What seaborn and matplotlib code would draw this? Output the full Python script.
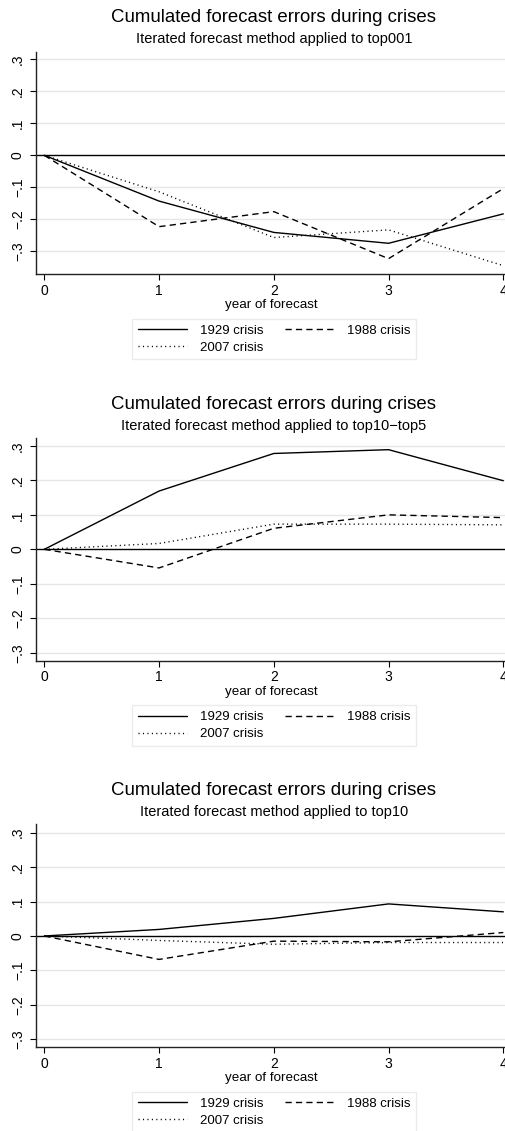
import matplotlib
matplotlib.use("Agg")
import matplotlib.pyplot as plt
import seaborn as sns
import pandas as pd

sns.set_style("ticks")
plt.rcParams["font.family"] = ["Liberation Sans", "DejaVu Sans"]
plt.rcParams["axes.unicode_minus"] = True
for key in ["text.color", "axes.labelcolor", "xtick.color", "ytick.color", "axes.edgecolor"]:
    plt.rcParams[key] = "black"

years = [0, 1, 2, 3, 4]
crises = ["1929 crisis", "1988 crisis", "2007 crisis"]
yticks = [-0.3, -0.2, -0.1, 0.0, 0.1, 0.2, 0.3]
ytick_labels = ["\u2212.3", "\u2212.2", "\u2212.1", "0", ".1", ".2", ".3"]

# cumulated forecast errors, one list per crisis for each series
top001_1929 = [0.0, -0.143, -0.241, -0.275, -0.183]
top001_1988 = [0.0, -0.223, -0.176, -0.323, -0.104]
top001_2007 = [0.0, -0.114, -0.257, -0.233, -0.345]

top10_top5_1929 = [0.0, 0.169, 0.278, 0.289, 0.199]
top10_top5_1988 = [0.0, -0.054, 0.061, 0.100, 0.092]
top10_top5_2007 = [0.0, 0.017, 0.073, 0.073, 0.071]

top10_1929 = [0.0, 0.019, 0.051, 0.093, 0.070]
top10_1988 = [0.0, -0.068, -0.015, -0.017, 0.010]
top10_2007 = [0.0, -0.013, -0.024, -0.019, -0.019]

panels = [
    ("top001", [top001_1929, top001_1988, top001_2007], (-0.371, 0.324), 51.7, 274.0),
    ("top10\u2212top5", [top10_top5_1929, top10_top5_1988, top10_top5_2007], (-0.323, 0.322), 438.3, 660.7),
    ("top10", [top10_1929, top10_1988, top10_2007], (-0.323, 0.324), 824.3, 1047.3),
]

styles = {
    "1929 crisis": "-",
    "1988 crisis": (0, (4.5, 3.0)),
    "2007 crisis": (0, (0.8, 2.4)),
}

W, H = 506, 1131
fig = plt.figure(figsize=(W / 100, H / 100), dpi=100)

x_left, x_right = 36.0, 506.0
x0_px, x4_px = 44.3, 503.3
px_per_year = (x4_px - x0_px) / 4
xlim = (-(x0_px - x_left) / px_per_year, 4 + (x_right - x4_px) / px_per_year)

for name, series, ylim, top_px, bot_px in panels:
    ax = fig.add_axes([x_left / W, 1 - bot_px / H, (x_right - x_left) / W, (bot_px - top_px) / H])
    df = pd.DataFrame({
        "year": years * 3,
        "error": sum(series, []),
        "crisis": [c for c in crises for _ in years],
    })
    ax.axhline(0, color="black", lw=1.0, zorder=1)
    for t in yticks:
        if t != 0:
            ax.axhline(t, color="#e6e6e6", lw=1.0, zorder=0)
    for c in crises:
        sns.lineplot(data=df[df["crisis"] == c], x="year", y="error", ax=ax,
                     color="black", linestyle=styles[c], lw=1.0, label=c,
                     legend=False, zorder=3)
    ax.set_xlim(*xlim)
    ax.set_ylim(*ylim)
    ax.set_xticks(years)
    ax.set_xticklabels([str(y) for y in years], fontsize=10)
    ax.set_yticks(yticks)
    ax.set_yticklabels(ytick_labels, fontsize=10, rotation=90, va="center")
    ax.tick_params(axis="both", direction="out", length=4, width=0.8, color="black", pad=3)
    ax.tick_params(axis="y", pad=4)
    ax.set_xlabel("year of forecast", fontsize=9.6, labelpad=1)
    ax.set_ylabel("")
    for s in ["top", "right"]:
        ax.spines[s].set_visible(False)
    for s in ["left", "bottom"]:
        ax.spines[s].set_color("#222222")
        ax.spines[s].set_linewidth(1.0)

    fig.text(274 / W, 1 - (top_px - 34) / H, "Cumulated forecast errors during crises",
             ha="center", va="center", fontsize=13.4)
    fig.text(274 / W, 1 - (top_px - 12.3) / H, "Iterated forecast method applied to " + name,
             ha="center", va="center", fontsize=10.5)

    handles, labels = ax.get_legend_handles_labels()
    order = [labels.index(l) for l in ["1929 crisis", "2007 crisis", "1988 crisis"]]
    leg = fig.legend([handles[i] for i in order], [labels[i] for i in order],
                     ncol=2, loc="center", bbox_to_anchor=(274 / W, 1 - (bot_px + 65) / H),
                     fontsize=9.5, frameon=True, fancybox=False, handlelength=3.7,
                     columnspacing=1.6, handletextpad=1.0, borderpad=0.45, labelspacing=0.35,
                     borderaxespad=0)
    leg.get_frame().set_edgecolor("#e6e6e6")
    leg.get_frame().set_linewidth(1.0)

fig.savefig("out.png", dpi=100)
